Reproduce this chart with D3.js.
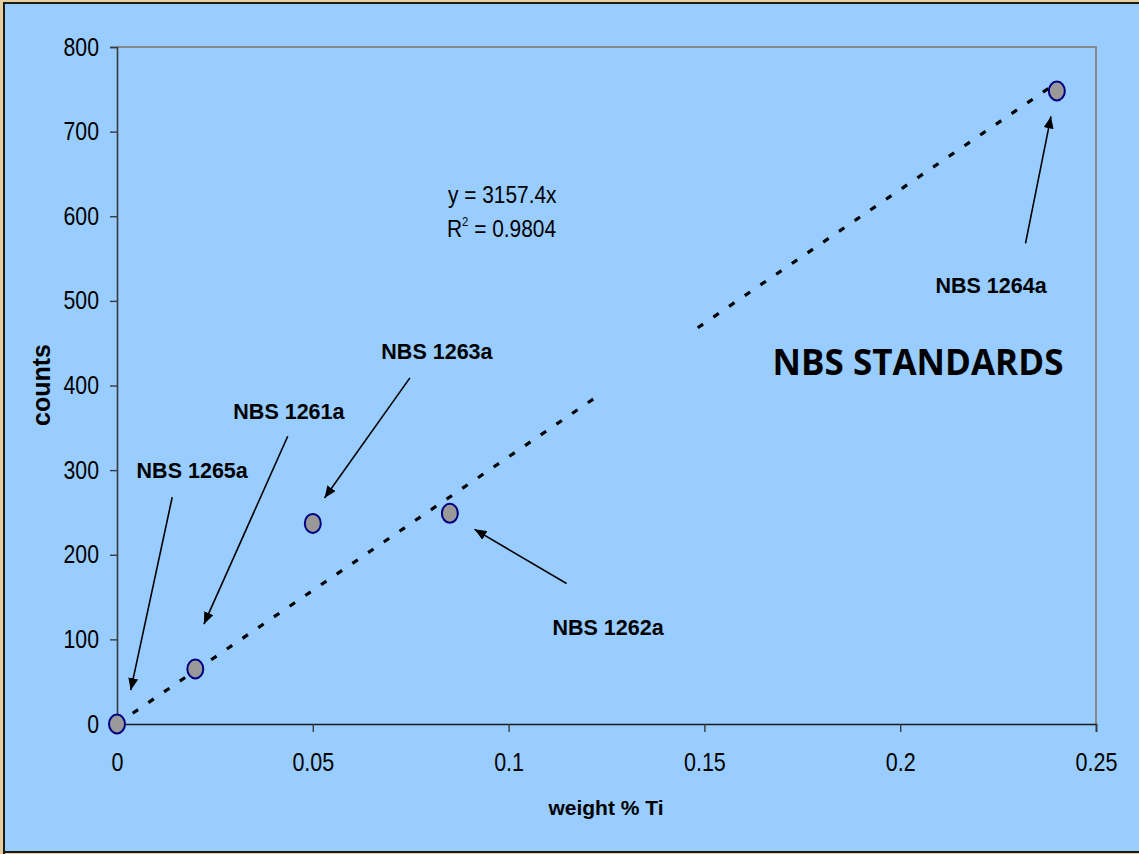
<!DOCTYPE html>
<html>
<head>
<meta charset="utf-8">
<script src="https://cdn.jsdelivr.net/npm/d3@7"></script>
<style>
  html, body { margin: 0; padding: 0; background: #e6cf9f; }
  svg { display: block; }
</style>
</head>
<body>
<svg id="chart" width="1139" height="854"></svg>
<script>
// Titanium calibration against NBS steel standards
const standards = ["NBS 1265a", "NBS 1261a", "NBS 1263a", "NBS 1262a", "NBS 1264a"];
const weightTi  = [0, 0.02, 0.05, 0.085, 0.24];
const counts    = [0, 65, 237, 249, 748];

// Least-squares fit through the origin
const slope = 3157.4;
const rSquared = 0.9804;

const xTicks = [0, 0.05, 0.1, 0.15, 0.2, 0.25];
const yTicks = [0, 100, 200, 300, 400, 500, 600, 700, 800];

// Annotation label anchors and arrow start points, in data units
const labelPos  = [[0.0192, 291], [0.0439, 360], [0.0817, 431], [0.1254, 105], [0.2232, 509]];
const arrowFrom = [[0.0141, 268], [0.0436, 340], [0.0748, 409], [0.1148, 166], [0.232, 568]];
const arrowTo   = [[0.0035, 40], [0.0222, 118], [0.0530, 267], [0.0913, 230], [0.2385, 718]];

const svg = d3.select("#chart");
const W = 1139, H = 854;
const m = { left: 117, right: 1096, top: 47, bottom: 724 };

// Chart area background and frame
svg.append("rect").attr("x", 3).attr("y", 2).attr("width", W - 3).attr("height", H - 3)
  .attr("fill", "#99ccff");
svg.append("path")
  .attr("d", `M4,${H} V3 H${W}`)
  .attr("fill", "none").attr("stroke", "#1a1a1a").attr("stroke-width", 2);
svg.append("line").attr("x1", 4).attr("x2", W).attr("y1", 852).attr("y2", 852)
  .attr("stroke", "#1a1a1a").attr("stroke-width", 2);

const x = d3.scaleLinear().domain([0, 0.25]).range([m.left, m.right]);
const y = d3.scaleLinear().domain([0, 800]).range([m.bottom, m.top]);

// Plot area border (top and right)
svg.append("path")
  .attr("d", `M${m.left},${m.top} H${m.right} V${m.bottom}`)
  .attr("fill", "none").attr("stroke", "#888888").attr("stroke-width", 2);

const font = "'Liberation Sans', Arial, sans-serif";

// Regular chart text is set slightly condensed
function condense(sel, k) {
  sel.each(function () {
    const len = this.getComputedTextLength();
    d3.select(this).attr("textLength", len * k).attr("lengthAdjust", "spacingAndGlyphs");
  });
}

// Y axis
const yAxis = svg.append("g").attr("transform", `translate(${m.left},0)`)
  .call(d3.axisLeft(y).tickValues(yTicks).tickSize(7).tickPadding(11).tickFormat(d3.format("d")));
yAxis.select(".domain").attr("stroke", "#3a3a3a").attr("stroke-width", 1.6);
yAxis.selectAll(".tick line").attr("stroke", "#3a3a3a").attr("stroke-width", 1.4);
yAxis.selectAll("text").attr("font-family", font).attr("font-size", 25).attr("fill", "#000")
  .call(condense, 0.85);

// X axis
const xAxis = svg.append("g").attr("transform", `translate(0,${m.bottom})`)
  .call(d3.axisBottom(x).tickValues(xTicks).tickSize(8).tickPadding(21).tickFormat(d => String(d)));
xAxis.select(".domain").attr("stroke", "#1a1a1a").attr("stroke-width", 1.6);
xAxis.selectAll(".tick line").attr("stroke", "#3a3a3a").attr("stroke-width", 1.4);
xAxis.selectAll("text").attr("font-family", font).attr("font-size", 25).attr("fill", "#000")
  .call(condense, 0.86);

// Axis titles
svg.append("text").attr("x", 606).attr("y", 815).attr("text-anchor", "middle")
  .attr("font-family", font).attr("font-weight", "bold").attr("font-size", 21)
  .text("weight % Ti");
svg.append("text").attr("transform", "translate(50,385) rotate(-90)").attr("text-anchor", "middle")
  .attr("font-family", font).attr("font-weight", "bold").attr("font-size", 25)
  .text("counts");

// Trendline
const xMax = d3.max(weightTi);
svg.append("line")
  .attr("x1", x(0)).attr("y1", y(0))
  .attr("x2", x(xMax)).attr("y2", y(slope * xMax))
  .attr("stroke", "#000").attr("stroke-width", 3.2)
  .attr("stroke-dasharray", "6.5,12.5");

// Text box sitting over part of the trendline
svg.append("rect")
  .attr("x", 598).attr("y", 318).attr("width", 99).attr("height", 82)
  .attr("fill", "#99ccff");

// Data points
svg.selectAll("ellipse.pt").data(weightTi).join("ellipse")
  .attr("class", "pt")
  .attr("cx", (d) => x(d)).attr("cy", (d, i) => y(counts[i]))
  .attr("rx", 8).attr("ry", 9.5)
  .attr("fill", "#999999").attr("stroke", "#000080").attr("stroke-width", 2);

// Fit equation
svg.append("text").attr("x", 448).attr("y", 203)
  .attr("font-family", font).attr("font-size", 24).text(`y = ${slope}x`)
  .call(condense, 0.87);
const r2 = svg.append("text").attr("x", 447).attr("y", 237)
  .attr("font-family", font).attr("font-size", 24);
r2.append("tspan").text("R");
r2.append("tspan").attr("dy", -11).attr("font-size", 13).text("2");
r2.append("tspan").attr("dy", 11).text(` = ${rSquared}`);
r2.call(condense, 0.87);

// Arrow markers
svg.append("defs").append("marker")
  .attr("id", "head").attr("viewBox", "0 0 12 10")
  .attr("refX", 12).attr("refY", 5)
  .attr("markerWidth", 12).attr("markerHeight", 10)
  .attr("markerUnits", "userSpaceOnUse")
  .attr("orient", "auto")
  .append("path").attr("d", "M0,0 L12,5 L0,10 Z").attr("fill", "#000");

svg.selectAll("line.arrow").data(standards).join("line")
  .attr("class", "arrow")
  .attr("x1", (d, i) => x(arrowFrom[i][0])).attr("y1", (d, i) => y(arrowFrom[i][1]))
  .attr("x2", (d, i) => x(arrowTo[i][0])).attr("y2", (d, i) => y(arrowTo[i][1]))
  .attr("stroke", "#000").attr("stroke-width", 1.6)
  .attr("marker-end", "url(#head)");

// Standard labels
svg.selectAll("text.lbl").data(standards).join("text")
  .attr("class", "lbl")
  .attr("x", (d, i) => x(labelPos[i][0])).attr("y", (d, i) => y(labelPos[i][1]))
  .attr("text-anchor", "middle")
  .attr("font-family", font).attr("font-weight", "bold").attr("font-size", 21.5)
  .text((d) => d);

// Title
svg.append("text").attr("x", 918).attr("y", 375).attr("text-anchor", "middle")
  .attr("font-family", "'Open Sans', sans-serif").attr("font-weight", "bold").attr("font-size", 35)
  .text("NBS STANDARDS");
</script>
</body>
</html>
